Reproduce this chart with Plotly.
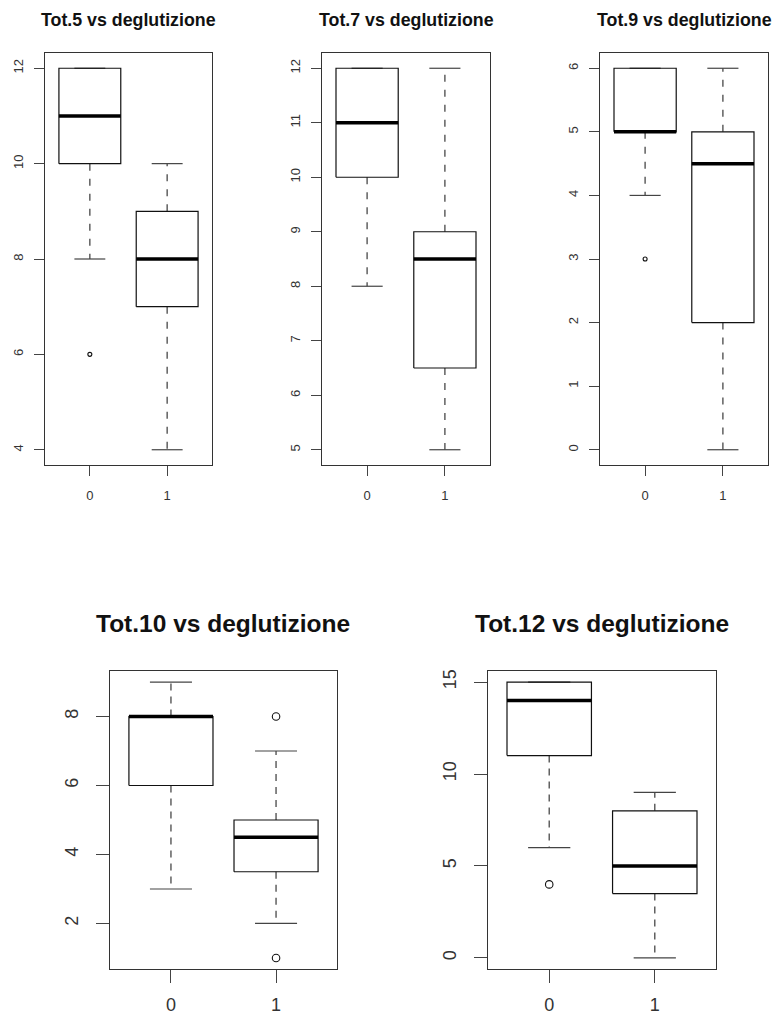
import plotly.graph_objects as go

W, H = 773, 1016

# Grouping variable (deglutizione) shown on every x axis
groups = ["0", "1"]

# Five-number summaries per group: lower whisker, Q1, median, Q3, upper whisker
tot5_stats_0 = [8, 10, 11, 12, 12]
tot5_stats_1 = [4, 7, 8, 9, 10]
tot5_out_0 = [6]
tot5_out_1 = []

tot7_stats_0 = [8, 10, 11, 12, 12]
tot7_stats_1 = [5, 6.5, 8.5, 9, 12]
tot7_out_0 = []
tot7_out_1 = []

tot9_stats_0 = [4, 5, 5, 6, 6]
tot9_stats_1 = [0, 2, 4.5, 5, 6]
tot9_out_0 = [3]
tot9_out_1 = []

tot10_stats_0 = [3, 6, 8, 8, 9]
tot10_stats_1 = [2, 3.5, 4.5, 5, 7]
tot10_out_0 = []
tot10_out_1 = [8, 1]

tot12_stats_0 = [6, 11, 14, 15, 15]
tot12_stats_1 = [0, 3.5, 5, 8, 9]
tot12_out_0 = [4]
tot12_out_1 = []

titles = ["Tot.5 vs deglutizione", "Tot.7 vs deglutizione", "Tot.9 vs deglutizione",
          "Tot.10 vs deglutizione", "Tot.12 vs deglutizione"]
y_dticks = [2, 1, 1, 2, 5]


def px_x(a, b):
    return [a / W, b / W]


def px_y(top, bottom):
    return [(H - bottom) / H, (H - top) / H]


# panel frames in pixels and per-row styling
small = dict(title_size=17.8, tick_size=13, ticklen=10, out_size=4, med_w=3.5, title_y=20,
             dash="7px,8px", x_standoff=8, y_standoff=6)
large = dict(title_size=24.5, tick_size=18, ticklen=13, out_size=7.5, med_w=3.5, title_y=623,
             dash="7px,6px", x_standoff=6, y_standoff=11)

panels = [
    dict(stats=[tot5_stats_0, tot5_stats_1], out=[tot5_out_0, tot5_out_1],
         xd=px_x(45, 212), yd=px_y(53, 465), style=small),
    dict(stats=[tot7_stats_0, tot7_stats_1], out=[tot7_out_0, tot7_out_1],
         xd=px_x(322, 490), yd=px_y(53, 465), style=small),
    dict(stats=[tot9_stats_0, tot9_stats_1], out=[tot9_out_0, tot9_out_1],
         xd=px_x(600, 768), yd=px_y(53, 465), style=small),
    dict(stats=[tot10_stats_0, tot10_stats_1], out=[tot10_out_0, tot10_out_1],
         xd=px_x(110, 337), yd=px_y(671, 969), style=large),
    dict(stats=[tot12_stats_0, tot12_stats_1], out=[tot12_out_0, tot12_out_1],
         xd=px_x(488, 716), yd=px_y(671, 969), style=large),
]

FONT = "Liberation Sans, Arial, sans-serif"
fig = go.Figure()
layout = {}
annotations = []

for i, p in enumerate(panels):
    n = "" if i == 0 else str(i + 1)
    xref, yref = "x" + n, "y" + n
    st = p["style"]

    box_x, box_y = [], []
    med_x, med_y = [], []
    wh_x, wh_y = [], []
    cap_x, cap_y = [], []
    out_x, out_y = [], []
    all_vals = []
    for g, (s, o) in enumerate(zip(p["stats"], p["out"])):
        pos = g + 1
        lo, q1, med, q3, hi = s
        half, cap = 0.4, 0.2
        box_x += [pos - half, pos + half, pos + half, pos - half, pos - half, None]
        box_y += [q1, q1, q3, q3, q1, None]
        med_x += [pos - half, pos + half, None]
        med_y += [med, med, None]
        wh_x += [pos, pos, None, pos, pos, None]
        wh_y += [q3, hi, None, q1, lo, None]
        cap_x += [pos - cap, pos + cap, None, pos - cap, pos + cap, None]
        cap_y += [hi, hi, None, lo, lo, None]
        out_x += [pos] * len(o)
        out_y += list(o)
        all_vals += list(s) + list(o)

    common = dict(xaxis=xref, yaxis=yref, showlegend=False, hoverinfo="skip")
    fig.add_trace(go.Scatter(x=wh_x, y=wh_y, mode="lines",
                             line=dict(color="#555", width=1.4, dash=st["dash"]), **common))
    fig.add_trace(go.Scatter(x=cap_x, y=cap_y, mode="lines",
                             line=dict(color="#444", width=1.2), **common))
    fig.add_trace(go.Scatter(x=box_x, y=box_y, mode="lines",
                             line=dict(color="#111", width=1.2), **common))
    fig.add_trace(go.Scatter(x=med_x, y=med_y, mode="lines",
                             line=dict(color="#000", width=st["med_w"]), **common))
    if out_x:
        fig.add_trace(go.Scatter(x=out_x, y=out_y, mode="markers",
                                 marker=dict(symbol="circle-open", size=st["out_size"],
                                             color="#111", line=dict(width=1.1)),
                                 **common))

    vmin, vmax = min(all_vals), max(all_vals)
    pad = 0.04 * (vmax - vmin)
    axis_style = dict(showline=True, mirror=True, linecolor="#333", linewidth=1.4,
                      ticks="outside", ticklen=st["ticklen"], tickwidth=1.2,
                      tickcolor="#444", showgrid=False, zeroline=False, automargin=False,
                      tickfont=dict(family=FONT, size=st["tick_size"], color="#333"))
    layout["xaxis" + n] = dict(domain=p["xd"], range=[0.42, 2.58], tickvals=[1, 2],
                               ticktext=groups, anchor=yref,
                               ticklabelstandoff=st["x_standoff"], **axis_style)
    layout["yaxis" + n] = dict(domain=p["yd"], range=[vmin - pad, vmax + pad],
                               dtick=y_dticks[i], tick0=0, tickangle=-90,
                               ticklabelstandoff=st["y_standoff"],
                               anchor=xref, **axis_style)
    annotations.append(dict(text="<b>" + titles[i] + "</b>", xref="paper", yref="paper",
                            x=sum(p["xd"]) / 2, y=(H - st["title_y"]) / H,
                            xanchor="center", yanchor="middle", showarrow=False,
                            font=dict(family=FONT, size=st["title_size"], color="#111")))

fig.update_layout(width=W, height=H, margin=dict(l=0, r=0, t=0, b=0, autoexpand=False),
                  paper_bgcolor="white", plot_bgcolor="white",
                  annotations=annotations, **layout)
fig.write_html("out.html")
